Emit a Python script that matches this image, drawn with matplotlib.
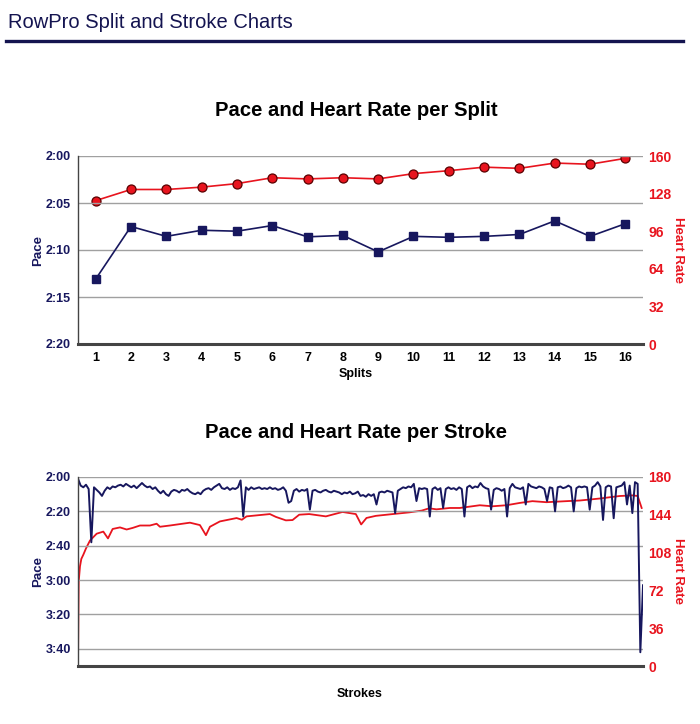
import numpy as np
import matplotlib
matplotlib.use("Agg")
import matplotlib.pyplot as plt

plt.rcParams['font.family'] = ['Liberation Sans', 'DejaVu Sans']

NAVY = '#17175e'
RED = '#e8141e'
GRID = '#a0a0a0'
SPINE = '#444444'

# ---- split data ----
splits = list(range(1, 17))
split_pace = [133.1, 127.5, 128.55, 127.9, 128.0, 127.4, 128.6, 128.45,
              130.2, 128.55, 128.65, 128.55, 128.35, 126.9, 128.55, 127.2]
split_hr = [122, 131.5, 131.5, 133.5, 136.5, 141.5, 140.5, 141.5,
            140.5, 145, 147.5, 150.5, 149.5, 154, 153, 158]

split_pace_ticks = [120, 125, 130, 135, 140]
split_pace_labels = ['2:00', '2:05', '2:10', '2:15', '2:20']
split_hr_ticks = [0, 32, 64, 96, 128, 160]

# ---- stroke data (pace in seconds, one value every 4 strokes) ----
stroke_pace = [
    121, 125, 126, 124.5, 127, 158, 126, 127.5, 129, 131,
    128, 126, 127, 125.5, 126, 125, 124.5, 125.5, 124, 125,
    126, 125, 126.5, 125, 123.5, 125, 126, 125.5, 127, 126,
    128, 129.5, 128, 130, 131, 128.5, 127.5, 128, 129, 127.5,
    128, 127, 128.5, 129.5, 130, 129, 130, 128, 127, 126.5,
    127.5, 126, 125, 124, 126.5, 127, 126, 127.5, 126.5, 127,
    126, 122, 143, 126, 127.5, 126, 127, 126.5, 126, 127,
    126.5, 127, 126, 127, 126.5, 127.5, 127, 126, 128, 135,
    134, 128, 127, 128.5, 127.5, 128, 127, 139, 128, 127.5,
    128.5, 129, 128, 127.5, 128.5, 129, 128, 128.5, 129, 130,
    129, 129.5, 128.5, 130, 129.5, 128.5, 131, 130.5, 131.5, 130,
    131, 130, 136, 129, 128.5, 129, 128, 128.5, 129, 141,
    128, 127, 126, 126.5, 125.5, 126, 124, 134, 126.5, 127,
    126.5, 127, 143, 127, 126, 127.5, 126.5, 138, 127, 126,
    127, 126.5, 127.5, 126, 127, 143, 126, 125, 126.5, 125.5,
    126, 123.5, 125.5, 126.5, 127, 139, 127.5, 126.5, 127, 128,
    127, 143, 126.5, 124, 126, 126.5, 127, 126, 136, 124,
    125.5, 126, 126.5, 125.5, 126, 127, 134, 126, 126.5, 140,
    126, 125.5, 126.5, 126, 125, 126, 140, 126.5, 125.5, 126,
    125.5, 126, 139, 126, 125, 123, 125.5, 145, 126, 125,
    125.5, 144, 126, 125.5, 125, 123, 136, 125, 141, 123,
    124, 222, 183,
]
stroke_pace_no = np.arange(len(stroke_pace)) * 4

# heart rate, sampled at irregular strokes
stroke_hr_no = [0, 1, 3, 5, 8, 12, 18, 28, 38, 45, 52, 63, 73, 82, 93, 108,
                118, 123, 138, 168, 183, 192, 198, 213, 238, 246, 253, 288,
                297, 312, 322, 332, 347, 372, 397, 417, 425, 433, 447, 477,
                497, 516, 527, 538, 558, 573, 603, 622, 643, 663, 682, 703,
                733, 753, 783, 813, 833, 840, 846]
stroke_hr = [0, 80, 95, 102, 106, 112, 119.5, 126, 128, 121.5, 130.5, 132,
             130, 131.5, 133.8, 133.8, 135.5, 132.6, 133.8, 136.5, 134.2,
             124.6, 132.6, 137.7, 140.9, 139.3, 142.5, 144.7, 142, 138.7,
             139, 144.1, 144.7, 142.5, 146.7, 144.7, 134.8, 141, 143, 145,
             146.3, 148, 150.2, 149.2, 150.5, 150.5, 153.1, 152.1, 153.1,
             155.3, 157, 156, 157, 157.6, 159.5, 161.9, 162.5, 161.9, 150.5]

stroke_pace_ticks = [120, 140, 160, 180, 200, 220]
stroke_pace_labels = ['2:00', '2:20', '2:40', '3:00', '3:20', '3:40']
stroke_hr_ticks = [0, 36, 72, 108, 144, 180]

fig = plt.figure(figsize=(7.0, 7.24), dpi=100)

fig.text(8 / 700, 1 - 22 / 724, 'RowPro Split and Stroke Charts',
         fontsize=14.5, color='#141450', va='center', ha='left')
fig.add_artist(plt.Line2D([6 / 700, 683 / 700], [1 - 41 / 724, 1 - 41 / 724],
                          color='#141450', lw=2.4))


def style_axes(ax, ax2, pace_ticks, pace_labels, hr_ticks):
    ax.set_zorder(ax2.get_zorder() + 1)
    ax.patch.set_visible(False)
    ax.set_yticks(pace_ticks)
    ax.set_yticklabels(pace_labels)
    ax.grid(axis='y', color=GRID, lw=1.0)
    ax.set_axisbelow(True)
    for s in ['top', 'right']:
        ax.spines[s].set_visible(False)
    ax.spines['left'].set_color(SPINE)
    ax.spines['left'].set_linewidth(1.0)
    ax.spines['bottom'].set_color(SPINE)
    ax.spines['bottom'].set_linewidth(2.2)
    ax.tick_params(axis='y', length=0, pad=5, labelsize=9, labelcolor=NAVY)
    for t in ax.get_yticklabels():
        t.set_fontweight('bold')
    ax.set_ylabel('Pace', color=NAVY, fontweight='bold', fontsize=9.5)
    ax.yaxis.set_label_coords(-0.060, 0.5)

    for s in ax2.spines.values():
        s.set_visible(False)
    ax2.set_yticks(hr_ticks)
    ax2.tick_params(axis='y', length=0, pad=4, labelsize=10, labelcolor=RED)
    for t in ax2.get_yticklabels():
        t.set_fontweight('bold')
    ax2.set_ylabel('Heart Rate', color=RED, fontweight='bold', fontsize=9.5,
                   rotation=270, va='bottom')
    ax2.yaxis.set_label_coords(1.052, 0.5)


# ---- top chart: per split ----
ax = fig.add_axes([78 / 700, 1 - 344 / 724, 565 / 700, 188 / 724])
ax2 = ax.twinx()
ax2.plot(splits, split_hr, color=RED, lw=1.2, marker='o', ms=6.5,
         markerfacecolor=RED, markeredgecolor='#5a0000', markeredgewidth=0.9)
ax.plot(splits, split_pace, color=NAVY, lw=1.2, marker='s', ms=6,
        markerfacecolor=NAVY, markeredgecolor=NAVY)
ax.set_xlim(0.5, 16.5)
ax.set_ylim(140, 120)
ax2.set_ylim(0, 160)
ax.set_xticks(splits)
ax.tick_params(axis='x', length=0, pad=6, labelsize=9)
for t in ax.get_xticklabels():
    t.set_fontweight('bold')
style_axes(ax, ax2, split_pace_ticks, split_pace_labels, split_hr_ticks)
ax.set_xlabel('Splits', fontweight='bold', fontsize=9)
ax.xaxis.set_label_coords(0.492, -0.125)
fig.text(356 / 700, 1 - 111 / 724, 'Pace and Heart Rate per Split',
         fontsize=14.6, fontweight='bold', ha='center', va='center')

# ---- bottom chart: per stroke ----
bx = fig.add_axes([78 / 700, 1 - 666 / 724, 565 / 700, 189 / 724])
bx2 = bx.twinx()
bx2.plot(stroke_hr_no, stroke_hr, color=RED, lw=1.3)
bx.plot(stroke_pace_no, stroke_pace, color=NAVY, lw=1.4)
bx.set_xlim(0, 848)
bx.set_ylim(230, 120)
bx2.set_ylim(0, 180)
bx.set_xticks([])
style_axes(bx, bx2, stroke_pace_ticks, stroke_pace_labels, stroke_hr_ticks)
bx.set_xlabel('Strokes', fontweight='bold', fontsize=9)
bx.xaxis.set_label_coords(0.499, -0.115)
fig.text(356 / 700, 1 - 433 / 724, 'Pace and Heart Rate per Stroke',
         fontsize=14.6, fontweight='bold', ha='center', va='center')

fig.savefig('out.png', dpi=100)
